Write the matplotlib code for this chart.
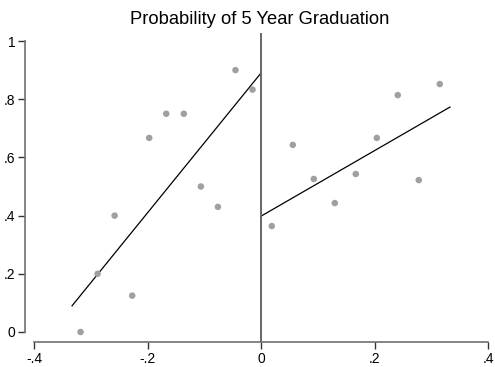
import matplotlib
matplotlib.use("Agg")
import matplotlib.pyplot as plt

plt.rcParams['font.family'] = ['Liberation Sans', 'DejaVu Sans']

# --- binned means, left and right of the cutoff ---
left_x = [-0.318, -0.288, -0.258, -0.227, -0.197, -0.167, -0.136, -0.106, -0.076, -0.045, -0.015]
left_y = [0.0, 0.2, 0.4, 0.125, 0.667, 0.75, 0.75, 0.5, 0.43, 0.9, 0.833]
right_x = [0.019, 0.056, 0.093, 0.130, 0.167, 0.204, 0.241, 0.278, 0.315]
right_y = [0.364, 0.643, 0.526, 0.443, 0.543, 0.667, 0.814, 0.522, 0.852]

# --- linear fits ---
fit_left_x = [-0.333, 0.0]
fit_left_y = [0.09, 0.89]
fit_right_x = [0.0, 0.333]
fit_right_y = [0.398, 0.773]

xticks = [-0.4, -0.2, 0, 0.2, 0.4]
xlabels = ['-.4', '-.2', '0', '.2', '.4']
yticks = [0, 0.2, 0.4, 0.6, 0.8, 1]
ylabels = ['0', '.2', '.4', '.6', '.8', '1']

fig = plt.figure(figsize=(4.95, 3.67), dpi=100)
ax = fig.add_axes([25 / 495, 25 / 367, 465 / 495, 309 / 367])

ax.scatter(left_x, left_y, s=22, color='#a0a0a0', edgecolors='none', zorder=3)
ax.scatter(right_x, right_y, s=22, color='#a0a0a0', edgecolors='none', zorder=3)
ax.plot(fit_left_x, fit_left_y, color='black', lw=0.9)
ax.plot(fit_right_x, fit_right_y, color='black', lw=0.9)
ax.axvline(0, color='#666666', lw=1.4, zorder=2)

ax.set_xlim(-0.4159, 0.4035)
ax.set_ylim(-0.0344, 1.0275)

for side in ['top', 'right']:
    ax.spines[side].set_visible(False)
for side in ['left', 'bottom']:
    ax.spines[side].set_color('#707070')
    ax.spines[side].set_linewidth(1.2)
ax.spines['left'].set_bounds(0, 1)
ax.spines['bottom'].set_bounds(-0.4, 0.4)

ax.set_xticks(xticks)
ax.set_xticklabels(xlabels)
ax.set_yticks(yticks)
ax.set_yticklabels(ylabels)
ax.tick_params(axis='both', labelsize=10, length=5, width=1.0, color='#333333', pad=2)

fig.text(260 / 495, 1 - 20 / 367, 'Probability of 5 Year Graduation',
         ha='center', va='center', fontsize=13.2)

fig.savefig('out.png', dpi=100)
